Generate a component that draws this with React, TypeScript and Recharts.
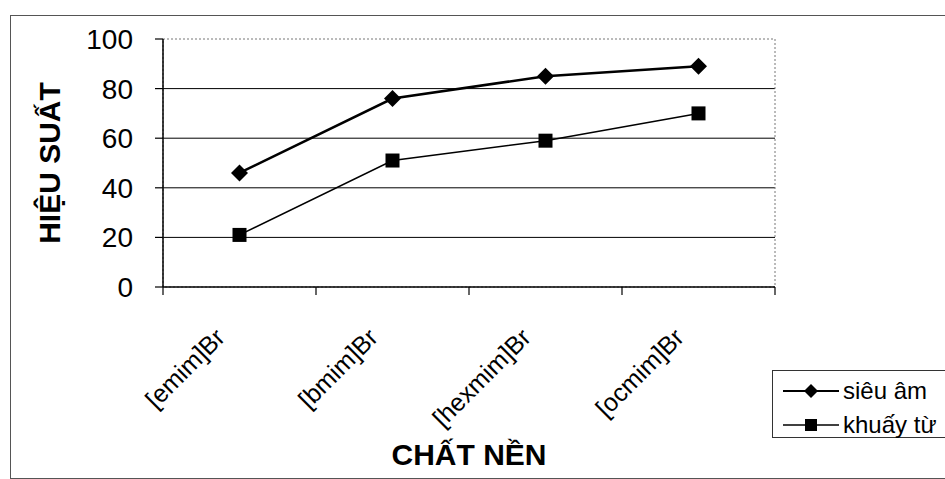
import React from "react";
import {
  LineChart,
  Line,
  XAxis,
  YAxis,
  CartesianGrid,
  Legend,
  ReferenceArea,
} from "recharts";

// dữ liệu
const categories = ["[emim]Br", "[bmim]Br", "[hexmim]Br", "[ocmim]Br"];
const sieuAm = [46, 76, 85, 89];
const khuayTu = [21, 51, 59, 70];
const yTicks = [0, 20, 40, 60, 80, 100];
const gridValues = [20, 40, 60, 80];
const seriesOrder = ["sieuAm", "khuayTu"];

const data = categories.map((name, i) => ({
  name,
  sieuAm: sieuAm[i],
  khuayTu: khuayTu[i],
}));

const FONT = "'Liberation Sans', Arial, sans-serif";

const Diamond = ({ cx, cy, size = 8 }: any) => {
  if (cx == null || cy == null) return null;
  return (
    <polygon
      points={`${cx},${cy - size} ${cx + size},${cy} ${cx},${cy + size} ${cx - size},${cy}`}
      fill="#000"
    />
  );
};

const Square = ({ cx, cy, size = 6.5 }: any) => {
  if (cx == null || cy == null) return null;
  return <rect x={cx - size} y={cy - size} width={size * 2} height={size * 2} fill="#000" />;
};

const XTick = (props: any) => {
  const { x, y, payload, index } = props;
  const half = payload.offset || 0;
  const ax = y;
  const lx = x - 13;
  const ly = ax + 52;
  return (
    <g>
      <line x1={x - half} x2={x - half} y1={ax} y2={ax + 8} stroke="#000" strokeWidth={1.2} />
      {index === categories.length - 1 && (
        <line x1={x + half} x2={x + half} y1={ax} y2={ax + 8} stroke="#000" strokeWidth={1.2} />
      )}
      <text
        x={lx}
        y={ly}
        textAnchor="end"
        transform={`rotate(-45, ${lx}, ${ly})`}
        fontSize={25}
        fontFamily={FONT}
        fill="#000"
      >
        {payload.value}
      </text>
    </g>
  );
};

const renderLegend = ({ payload }: any) => {
  const items = [...(payload || [])].sort(
    (a: any, b: any) => seriesOrder.indexOf(a.dataKey) - seriesOrder.indexOf(b.dataKey)
  );
  return (
    <div
      style={{
        borderTop: "1px solid #333",
        borderLeft: "1px solid #333",
        borderBottom: "1px solid #333",
        height: 68,
        boxSizing: "border-box",
        paddingTop: 3,
        fontFamily: FONT,
      }}
    >
      {items.map((entry: any) => (
        <div key={entry.value} style={{ display: "flex", alignItems: "center", height: 34 }}>
          <svg width={70} height={24} style={{ display: "block" }}>
            <line
              x1={10}
              x2={66}
              y1={12}
              y2={12}
              stroke="#000"
              strokeWidth={entry.dataKey === "sieuAm" ? 2 : 1.3}
            />
            {entry.dataKey === "sieuAm" ? (
              <Diamond cx={38} cy={12} size={7} />
            ) : (
              <Square cx={38} cy={12} size={6} />
            )}
          </svg>
          <span style={{ fontSize: 24, color: "#000", lineHeight: "24px" }}>{entry.value}</span>
        </div>
      ))}
    </div>
  );
};

export default function App() {
  return (
    <div style={{ position: "absolute", left: 0, top: 0, width: 945, height: 479, background: "#fff" }}>
      <div
        style={{
          position: "absolute",
          left: 10,
          top: 15,
          width: 935,
          height: 462,
          borderTop: "1px solid #555",
          borderLeft: "1px solid #555",
          borderBottom: "1px solid #555",
        }}
      />
      <LineChart
        width={945}
        height={479}
        data={data}
        margin={{ top: 39, right: 170, bottom: 0, left: 0 }}
        style={{ fontFamily: FONT }}
      >
        <ReferenceArea
          y1={0}
          y2={100}
          fill="none"
          fillOpacity={0}
          stroke="#777"
          strokeDasharray="2 2"
          ifOverflow="visible"
        />
        <CartesianGrid
          vertical={false}
          horizontalValues={gridValues}
          stroke="#000"
          strokeWidth={1}
        />
        <XAxis
          dataKey="name"
          scale="band"
          height={192}
          axisLine={{ stroke: "#000", strokeWidth: 1.5 }}
          tickLine={false}
          tickSize={0}
          tickMargin={0}
          interval={0}
          tick={<XTick />}
          label={(p: any) => {
            const vb = p.viewBox || {};
            return (
              <text
                x={vb.x + vb.width / 2}
                y={465}
                textAnchor="middle"
                fontSize={30}
                fontWeight="bold"
                fontFamily={FONT}
                fill="#000"
              >
                CHẤT NỀN
              </text>
            );
          }}
        />
        <YAxis
          width={163}
          domain={[0, 100]}
          ticks={yTicks}
          interval={0}
          axisLine={{ stroke: "#000", strokeWidth: 1.5 }}
          tickLine={{ stroke: "#000", strokeWidth: 1.2 }}
          tickSize={8}
          tickMargin={22}
          tick={{ fontSize: 28, fill: "#000", fontFamily: FONT }}
          label={(p: any) => {
            const vb = p.viewBox || {};
            const cy = vb.y + vb.height / 2;
            return (
              <text
                x={60}
                y={cy}
                textAnchor="middle"
                transform={`rotate(-90, 60, ${cy})`}
                fontSize={30}
                fontWeight="bold"
                fontFamily={FONT}
                fill="#000"
              >
                HIỆU SUẤT
              </text>
            );
          }}
        />
        <Line
          dataKey="sieuAm"
          name="siêu âm"
          stroke="#000"
          strokeWidth={2.5}
          dot={(p: any) => <Diamond key={`d-${p.index}`} cx={p.cx} cy={p.cy} size={8.5} />}
          activeDot={false}
          isAnimationActive={false}
        />
        <Line
          dataKey="khuayTu"
          name="khuấy từ"
          stroke="#000"
          strokeWidth={1.5}
          dot={(p: any) => <Square key={`s-${p.index}`} cx={p.cx} cy={p.cy} size={7} />}
          activeDot={false}
          isAnimationActive={false}
        />
        <Legend
          layout="vertical"
          align="center"
          verticalAlign="middle"
          content={renderLegend}
          wrapperStyle={{ left: 772, top: 370, width: 173, height: 68, right: "auto", bottom: "auto" }}
        />
      </LineChart>
    </div>
  );
}
